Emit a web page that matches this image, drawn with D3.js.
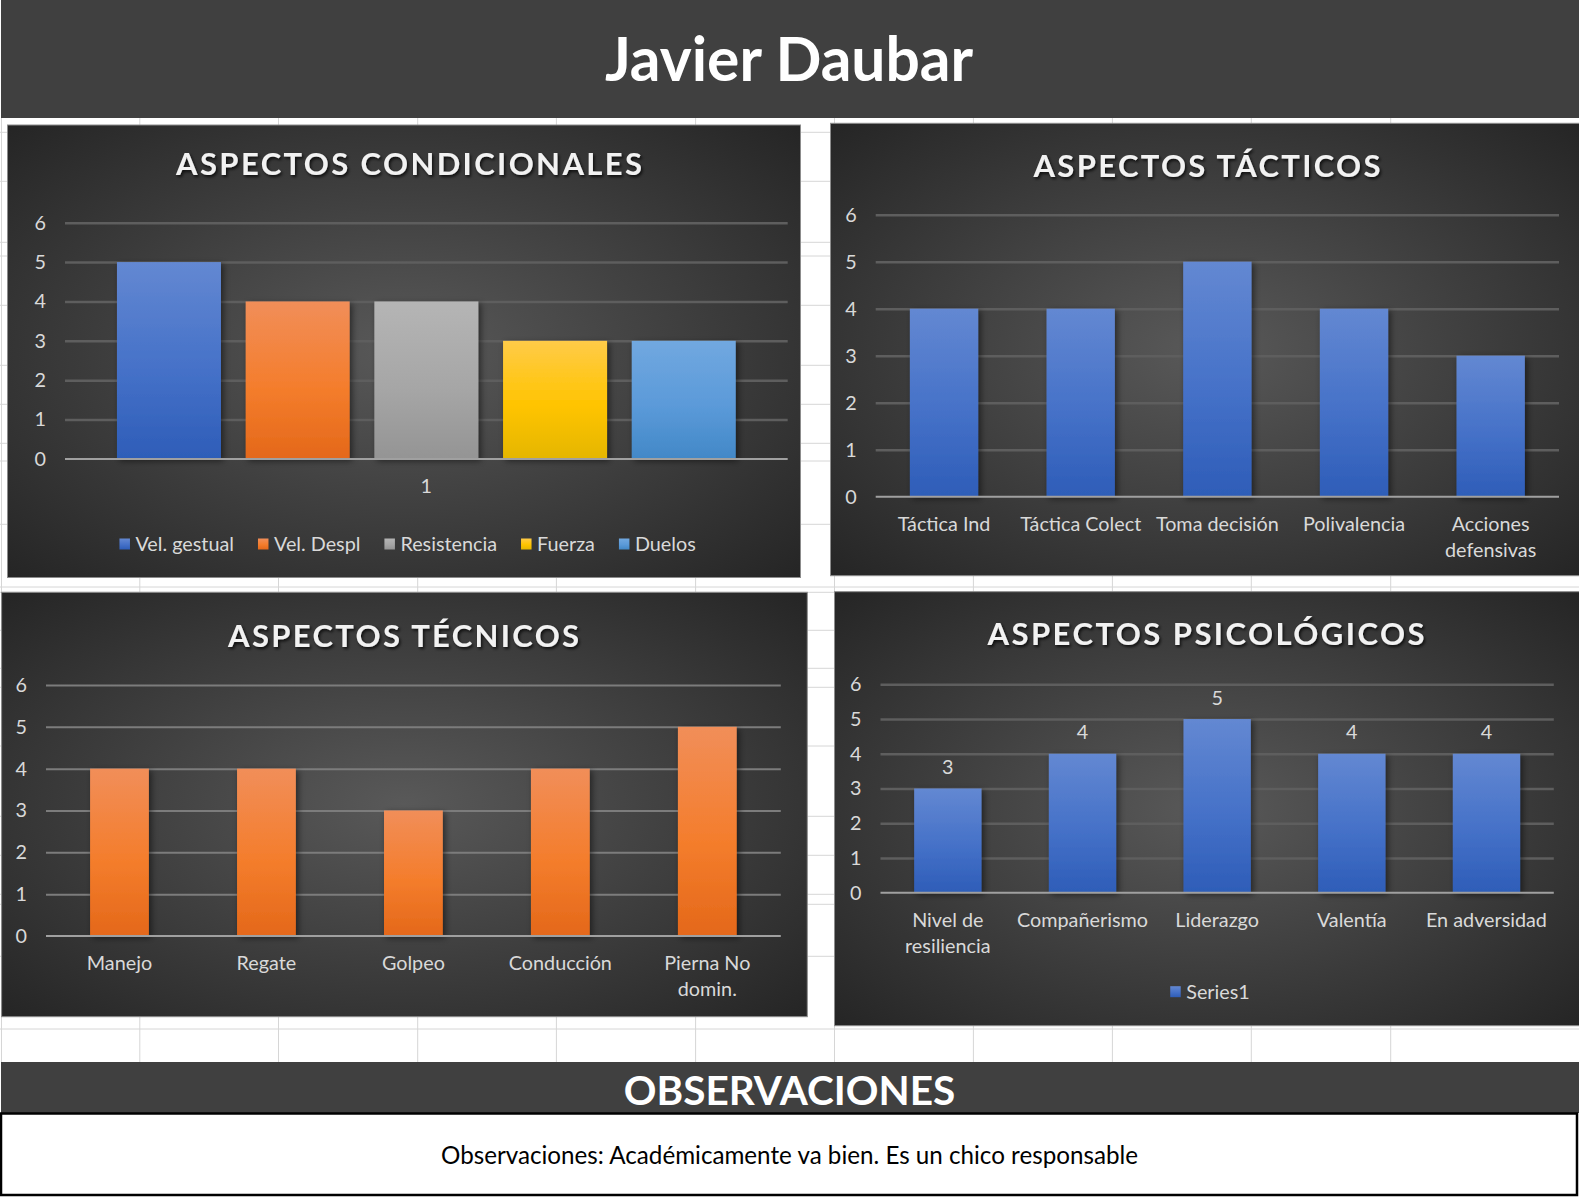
<!DOCTYPE html>
<html><head><meta charset="utf-8">
<script src="https://cdn.jsdelivr.net/npm/d3@7"></script>
<style>
html,body{margin:0;padding:0;background:#fff;}
svg{display:block;}
text{font-family:Lato,"Open Sans",sans-serif;}
</style></head><body>
<svg id="c" width="1579" height="1197"></svg>
<script>
// ---------------- DATA ----------------
const pageTitle = "Javier Daubar";
const yTickValues = [0, 1, 2, 3, 4, 5, 6];

const condTitle = "ASPECTOS CONDICIONALES";
const condCategories = ["1"];
const condSeries = ["Vel. gestual", "Vel. Despl", "Resistencia", "Fuerza", "Duelos"];
const condValues = [5, 4, 4, 3, 3];

const tactTitle = "ASPECTOS TÁCTICOS";
const tactCategories = ["Táctica Ind", "Táctica Colect", "Toma decisión", "Polivalencia", "Acciones\ndefensivas"];
const tactValues = [4, 4, 5, 4, 3];

const tecTitle = "ASPECTOS TÉCNICOS";
const tecCategories = ["Manejo", "Regate", "Golpeo", "Conducción", "Pierna No\ndomin."];
const tecValues = [4, 4, 3, 4, 5];

const psiTitle = "ASPECTOS PSICOLÓGICOS";
const psiCategories = ["Nivel de\nresiliencia", "Compañerismo", "Liderazgo", "Valentía", "En adversidad"];
const psiSeries = ["Series1"];
const psiValues = [3, 4, 5, 4, 4];

const obsTitle = "OBSERVACIONES";
const obsText = "Observaciones: Académicamente va bien. Es un chico responsable";

// ---------------- STYLE ----------------
const gradients = {
  blue:   ["#6388d2", "#4571c8", "#2e5db8"],
  orange: ["#f18e59", "#f47d2c", "#e4681a"],
  gray:   ["#b5b5b5", "#a6a6a6", "#949494"],
  yellow: ["#ffcb48", "#ffc400", "#e4b600"],
  sky:    ["#71a8e0", "#5b9ad9", "#4288c7"]
};
const condColors = ["blue", "orange", "gray", "yellow", "sky"];
const tickColor = "#d9d9d9";
const tickFont = 19.8;

const svg = d3.select("#c");
const defs = svg.append("defs");

Object.entries(gradients).forEach(([k, c]) => {
  const lg = defs.append("linearGradient").attr("id", "g-" + k)
    .attr("x1", 0).attr("y1", 0).attr("x2", 0).attr("y2", 1);
  lg.append("stop").attr("offset", "0%").attr("stop-color", c[0]);
  lg.append("stop").attr("offset", "55%").attr("stop-color", c[1]);
  lg.append("stop").attr("offset", "100%").attr("stop-color", c[2]);
});
const rg = defs.append("radialGradient").attr("id", "bg")
  .attr("cx", "50%").attr("cy", "50%").attr("r", "72%");
rg.append("stop").attr("offset", "0%").attr("stop-color", "#595959");
rg.append("stop").attr("offset", "100%").attr("stop-color", "#242424");

const fs = defs.append("filter").attr("id", "barShadow").attr("x", "-20%").attr("y", "-10%").attr("width", "150%").attr("height", "130%");
fs.append("feDropShadow").attr("dx", 2.5).attr("dy", 2).attr("stdDeviation", 3)
  .attr("flood-color", "#000").attr("flood-opacity", 0.5);
const ft = defs.append("filter").attr("id", "titleShadow").attr("x", "-10%").attr("y", "-30%").attr("width", "120%").attr("height", "160%");
ft.append("feDropShadow").attr("dx", 1.5).attr("dy", 2).attr("stdDeviation", 1.6)
  .attr("flood-color", "#000").attr("flood-opacity", 0.75);

// ---------------- SPREADSHEET BACKGROUND ----------------
const colLines = [1.5, 139.8, 278.5, 417.7, 556.4, 695.6, 834.5, 973.4, 1112.4, 1251.3, 1390.7];
const rowLines = [132.3, 181.3, 242.3, 256, 305.3, 365.3, 404.3, 443.3, 461, 524.3, 587, 592.3,
  630.3, 668.3, 687.3, 746, 816.3, 855.3, 894.3, 904.3, 956.3, 1029];
const grid = svg.append("g").attr("stroke", "#d6d6d6").attr("stroke-width", 1);
colLines.forEach(x => grid.append("line").attr("x1", x).attr("x2", x).attr("y1", 118).attr("y2", 1062));
rowLines.forEach(y => grid.append("line").attr("x1", 0).attr("x2", 1579).attr("y1", y).attr("y2", y));

// ---------------- HEADER ----------------
svg.append("rect").attr("x", 1).attr("y", 0).attr("width", 1578).attr("height", 118).attr("fill", "#404040");
svg.append("text").attr("x", 789).attr("y", 81).attr("text-anchor", "middle")
  .attr("font-size", 60.5).attr("font-weight", 700).attr("fill", "#ffffff").text(pageTitle);

// ---------------- CHART FUNCTION ----------------
function wrapLabel(sel, label, x, y, lh) {
  const t = sel.append("text").attr("x", x).attr("y", y).attr("text-anchor", "middle")
    .attr("font-size", tickFont).attr("fill", tickColor);
  label.split("\n").forEach((s, i) => t.append("tspan").attr("x", x).attr("dy", i ? lh : 0).text(s));
}

function drawFrame(cfg) {
  const g = svg.append("g");
  g.append("rect").attr("x", cfg.bx).attr("y", cfg.by).attr("width", cfg.bw).attr("height", cfg.bh)
    .attr("fill", "url(#bg)").attr("stroke", "#8c8c8c").attr("stroke-width", 1);
  g.append("text").attr("x", cfg.tx).attr("y", cfg.ty).attr("text-anchor", "middle")
    .attr("font-size", 31).attr("font-weight", 700).attr("fill", "#f2f2f2")
    .attr("textLength", cfg.tw).attr("lengthAdjust", "spacing")
    .attr("filter", "url(#titleShadow)").text(cfg.title);
  const y = d3.scaleLinear().domain([0, 6]).range([cfg.y0, cfg.y6]);
  const axis = d3.axisLeft(y).tickValues(yTickValues).tickFormat(d3.format("d"))
    .tickSize(-(cfg.px1 - cfg.px0)).tickPadding(19);
  const ag = g.append("g").attr("transform", `translate(${cfg.px0},0)`).call(axis);
  ag.select(".domain").remove();
  ag.selectAll(".tick line").attr("stroke", cfg.gridColor).attr("stroke-width", cfg.gridWidth)
    .filter(d => d === 0).remove();
  ag.selectAll(".tick text").attr("fill", tickColor).attr("font-size", tickFont)
    .attr("font-family", "Lato, sans-serif");
  return { g, y };
}
function drawBaseline(g, cfg) {
  g.append("line").attr("x1", cfg.px0).attr("x2", cfg.px1).attr("y1", cfg.y0).attr("y2", cfg.y0)
    .attr("stroke", "#a0a0a0").attr("stroke-width", 2);
}

function simpleChart(cfg, categories, values, color, gap) {
  const { g, y } = drawFrame(cfg);
  const x = d3.scaleBand().domain(categories).range([cfg.px0, cfg.px1])
    .paddingInner(gap).paddingOuter(gap / 2);
  g.selectAll("rect.bar").data(values).join("rect").attr("class", "bar")
    .attr("x", (d, i) => x(categories[i])).attr("width", x.bandwidth())
    .attr("y", d => y(d)).attr("height", d => y(0) - y(d))
    .attr("fill", `url(#g-${color})`).attr("filter", "url(#barShadow)");
  drawBaseline(g, cfg);
  categories.forEach(c => wrapLabel(g, c, x(c) + x.bandwidth() / 2, cfg.y0 + 34, 26));
  return { g, x, y };
}

// ---------------- CHART 1: CONDICIONALES ----------------
(function () {
  const cfg = { bx: 7.5, by: 125, bw: 793, bh: 452.5, title: condTitle, tx: 409, ty: 175, tw: 466,
    px0: 65, px1: 787.7, y0: 459, y6: 222.7, gridColor: "#5e5e5e", gridWidth: 2.5 };
  const { g, y } = drawFrame(cfg);
  const x0 = d3.scaleBand().domain(condCategories).range([cfg.px0, cfg.px1]).paddingInner(0).paddingOuter(0.084);
  const x1 = d3.scaleBand().domain(condSeries).range([0, x0.bandwidth()]).paddingInner(0.192);
  condCategories.forEach(cat => {
    g.selectAll("rect.bar").data(condValues).join("rect").attr("class", "bar")
      .attr("x", (d, i) => x0(cat) + x1(condSeries[i])).attr("width", x1.bandwidth())
      .attr("y", d => y(d)).attr("height", d => y(0) - y(d))
      .attr("fill", (d, i) => `url(#g-${condColors[i]})`).attr("filter", "url(#barShadow)");
    wrapLabel(g, cat, x0(cat) + x0.bandwidth() / 2, cfg.y0 + 34, 26);
  });
  drawBaseline(g, cfg);
  // legend
  const lg = g.append("g");
  const items = condSeries.map((s, i) => {
    const it = lg.append("g");
    it.append("rect").attr("width", 10.5).attr("height", 11).attr("y", -5.5).attr("fill", `url(#g-${condColors[i]})`);
    const t = it.append("text").attr("x", 16).attr("y", 7).attr("font-size", tickFont).attr("fill", tickColor).text(s);
    return { it, w: 16 + t.node().getComputedTextLength() };
  });
  const gapL = 24;
  const total = d3.sum(items, d => d.w) + gapL * (items.length - 1);
  let cx = 407.6 - total / 2;
  items.forEach(d => { d.it.attr("transform", `translate(${cx},544)`); cx += d.w + gapL; });
})();

// ---------------- CHART 2: TÁCTICOS ----------------
simpleChart({ bx: 830.5, by: 123.3, bw: 749, bh: 452.4, title: tactTitle, tx: 1207, ty: 176.7, tw: 347,
  px0: 875.7, px1: 1559, y0: 496.7, y6: 214.7, gridColor: "#5e5e5e", gridWidth: 2.5 },
  tactCategories, tactValues, "blue", 0.5);

// ---------------- CHART 3: TÉCNICOS ----------------
simpleChart({ bx: 1.6, by: 592.3, bw: 805.7, bh: 424.4, title: tecTitle, tx: 403.6, ty: 646.7, tw: 351,
  px0: 46, px1: 780.8, y0: 936, y6: 685, gridColor: "#7c7c7c", gridWidth: 2 },
  tecCategories, tecValues, "orange", 0.6);

// ---------------- CHART 4: PSICOLÓGICOS ----------------
(function () {
  const cfg = { bx: 834.5, by: 591.7, bw: 745, bh: 434, title: psiTitle, tx: 1206, ty: 645, tw: 437,
    px0: 880.5, px1: 1553.8, y0: 892.7, y6: 684.3, gridColor: "#5e5e5e", gridWidth: 2.5 };
  const { g, x, y } = simpleChart(cfg, psiCategories, psiValues, "blue", 0.5);
  g.selectAll("text.dl").data(psiValues).join("text").attr("class", "dl")
    .attr("x", (d, i) => x(psiCategories[i]) + x.bandwidth() / 2).attr("y", d => y(d) - 14.5)
    .attr("text-anchor", "middle").attr("font-size", tickFont).attr("fill", tickColor).text(d => d);
  const lg = g.append("g");
  const it = lg.append("g");
  it.append("rect").attr("width", 10.5).attr("height", 11).attr("y", -5.5).attr("fill", "url(#g-blue)");
  const t = it.append("text").attr("x", 16).attr("y", 7).attr("font-size", tickFont).attr("fill", tickColor).text(psiSeries[0]);
  const w = 16 + t.node().getComputedTextLength();
  it.attr("transform", `translate(${1210 - w / 2},991.7)`);
})();

// ---------------- OBSERVACIONES ----------------
svg.append("rect").attr("x", 1).attr("y", 1062).attr("width", 1578).attr("height", 51).attr("fill", "#404040");
svg.append("text").attr("x", 789.5).attr("y", 1104.5).attr("text-anchor", "middle")
  .attr("font-size", 40.5).attr("font-weight", 700).attr("fill", "#ffffff").text(obsTitle);
svg.append("rect").attr("x", 1).attr("y", 1113.5).attr("width", 1576).attr("height", 81.5)
  .attr("fill", "#ffffff").attr("stroke", "#000").attr("stroke-width", 2.5);
svg.append("text").attr("x", 789.5).attr("y", 1164).attr("text-anchor", "middle")
  .attr("font-size", 24.2).attr("fill", "#000").text(obsText);
</script>
</body></html>
